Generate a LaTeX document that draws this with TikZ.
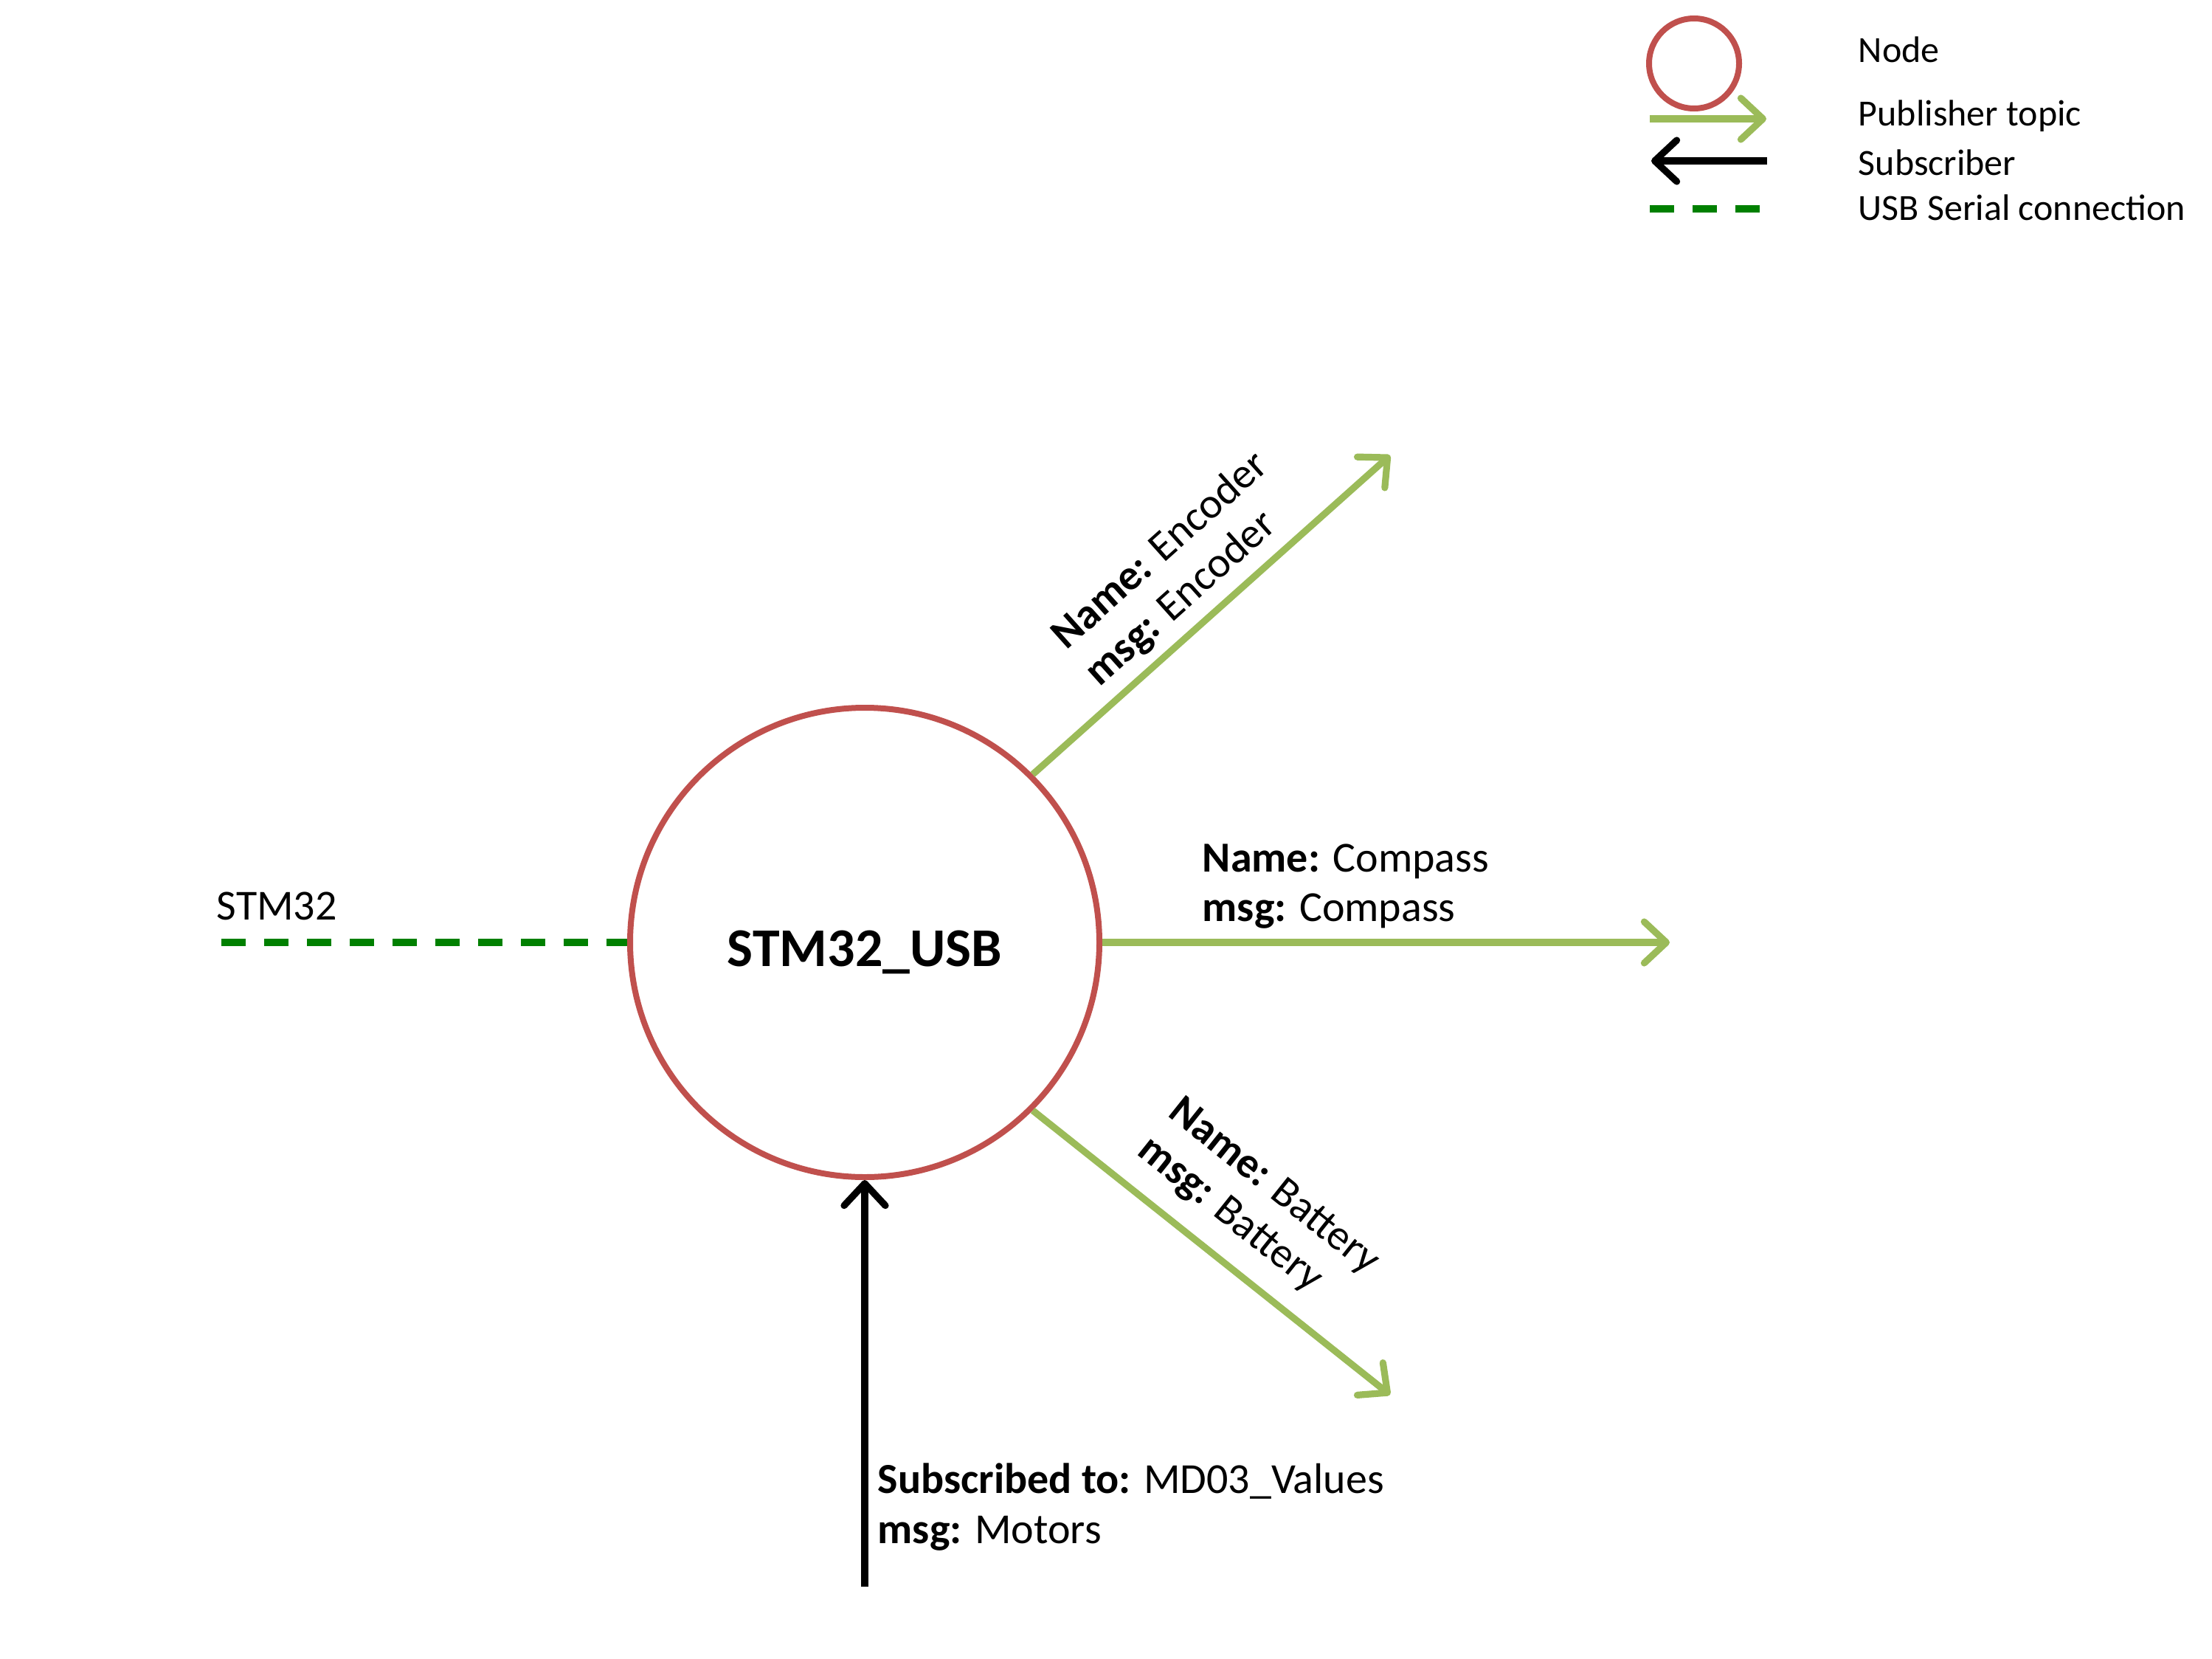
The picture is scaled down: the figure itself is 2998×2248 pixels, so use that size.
\documentclass[tikz,border=0pt]{standalone}
\usepackage{fontspec}
\setmainfont{Carlito}
\usetikzlibrary{arrows.meta}
\definecolor{nodered}{HTML}{C0504D}
\definecolor{pubgreen}{HTML}{9BBB59}
\definecolor{usbgreen}{HTML}{008000}
\begin{document}
\begin{tikzpicture}[x=0.25pt, y=-0.25pt,
  rosnode/.style={circle, draw=nodered, line width=2pt, inner sep=0pt},
  pub/.style={draw=pubgreen, line width=2.3pt, -{Straight Barb[length=7.5pt,width=14pt,round]}},
  sub/.style={draw=black, line width=2.3pt, -{Straight Barb[length=7.5pt,width=14pt,round]}},
  usb/.style={draw=usbgreen, line width=2.6pt, dash pattern=on 8.2pt off 6.3pt},
  lbl/.style={font=\fontsize{14.5}{16.8}\selectfont, align=left, inner sep=0pt},
  leg/.style={font=\fontsize{12.5}{15}\selectfont, anchor=west, inner sep=0pt},
]
\useasboundingbox (0,0) rectangle (2998,2248);

% main node
\node[rosnode, minimum size=159pt, font=\fontsize{18.5}{22}\selectfont\bfseries,
      text height=16pt, text depth=0pt] (main) at (1172,1277) {STM32\_USB};

% connectors
\coordinate (encend) at (1884,617);
\draw[pub] (main.45) -- (encend);
\coordinate (compend) at (2263,1277);
\draw[pub] (main.east) -- (compend);
\coordinate (batend) at (1884,1890);
\draw[pub] (main.-45) -- (batend);
\coordinate (substart) at (1172,2150);
\draw[sub] (substart) -- (main.south);
\coordinate (stm) at (300,1277);
\draw[usb] (stm) -- (main.west);

% labels
\node[lbl, rotate=41.8] (enclbl) at (1596,772) {\textbf{Name:} Encoder\\\textbf{msg:} Encoder};
\node[lbl, rotate=-38.6] (batlbl) at (1705,1635) {\textbf{Name:} Battery\\\textbf{msg:} Battery};
\node[lbl, anchor=west] (complbl) at (1629,1201) {\textbf{Name:} Compass\\\textbf{msg:} Compass};
\node[lbl, anchor=west] (sublbl) at (1189,2042) {\textbf{Subscribed to:} MD03\_Values\\\textbf{msg:} Motors};
\node[lbl, anchor=west] (stmlbl) at (293,1228) {STM32};

% legend
\node[rosnode, minimum size=30.5pt] (legcirc) at (2296,86) {};
\node[leg] (legnode) at (2518,67) {Node};
\coordinate (lp1) at (2236,161); \coordinate (lp2) at (2394,161);
\draw[pub] (lp1) -- (lp2);
\node[leg] (legpub) at (2518,157) {Publisher topic};
\coordinate (ls1) at (2395,218); \coordinate (ls2) at (2238,218);
\draw[sub] (ls1) -- (ls2);
\node[leg] (legsub) at (2518,220) {Subscriber};
\coordinate (lu1) at (2236,283); \coordinate (lu2) at (2386,283);
\draw[usb] (lu1) -- (lu2);
\node[leg] (legusb) at (2518,281) {USB Serial connection};
\end{tikzpicture}
\end{document}
